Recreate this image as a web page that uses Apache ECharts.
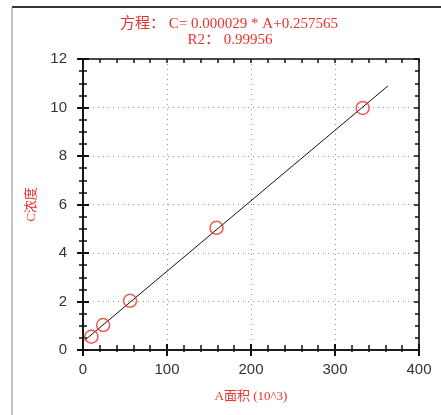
<!DOCTYPE html>
<html><head><meta charset="utf-8">
<script src="https://cdn.jsdelivr.net/npm/echarts@6/dist/echarts.min.js"></script>
<style>html,body{margin:0;padding:0;background:#fff}#c{width:441px;height:415px}</style>
</head><body><div id="c"></div>
<script>
const pointsX = [10, 24, 56, 159, 333];
const pointsY = [0.55, 1.03, 2.03, 5.04, 9.98];
const fitX = [2, 363];
const fitY = [0.40, 10.89];
const xTicks = [0, 100, 200, 300, 400];
const yTicks = [0, 2, 4, 6, 8, 10, 12];
const titleLine1 = '方程： C= 0.000029 * A+0.257565';
const titleLine2 = 'R2： 0.99956';

const red = '#e8322c';
const chart = echarts.init(document.getElementById('c'));
const gridPos = {left: 83, right: 22, top: 59, bottom: 65};
const tickCol = '#111';
function xAx(grid, extra) {
  return Object.assign({type: 'value', min: 0, max: 400, interval: 100, gridIndex: grid,
    axisLine: {show: false}, axisLabel: {show: false}, splitLine: {show: false}}, extra);
}
function yAx(grid, extra) {
  return Object.assign({type: 'value', min: 0, max: 12, interval: 2, gridIndex: grid,
    axisLine: {show: false}, axisLabel: {show: false}, splitLine: {show: false}}, extra);
}
const serifFont = '"Liberation Serif", "Noto Sans CJK SC"';
const axLine = {show: true, onZero: false, lineStyle: {color: tickCol, width: 1.6}};
chart.setOption({
  animation: false,
  grid: [gridPos, gridPos, gridPos],
  graphic: [
    {type: 'line', shape: {x1: 12, y1: 7, x2: 441, y2: 7}, style: {stroke: '#333', lineWidth: 2}},
    {type: 'line', shape: {x1: 12, y1: 7, x2: 12, y2: 415}, style: {stroke: '#888', lineWidth: 1}},
    {type: 'text', x: 229, y: 17, style: {text: titleLine1, fill: red, font: '15px ' + serifFont, align: 'center'}},
    {type: 'text', x: 230, y: 33, style: {text: titleLine2, fill: red, font: '15px ' + serifFont, align: 'center'}}
  ],
  xAxis: [
    xAx(0, {
      position: 'bottom',
      name: 'A面积 (10^3)', nameLocation: 'middle', nameGap: 40,
      nameTextStyle: {color: red, fontSize: 13, fontFamily: serifFont},
      axisLine: axLine,
      axisTick: {show: true, inside: false, length: 6, lineStyle: {color: tickCol, width: 2}},
      minorTick: {show: true, splitNumber: 5, length: 2, lineStyle: {color: tickCol, width: 1.5}},
      axisLabel: {show: true, margin: 12, color: '#333', fontSize: 15, fontFamily: '"Liberation Sans", Arial',
        formatter: v => xTicks.includes(v) ? String(v) : ''},
      splitLine: {show: true, lineStyle: {color: '#999', type: [1, 4], width: 1}}
    }),
    xAx(1, {
      position: 'bottom',
      axisLine: axLine,
      axisTick: {show: true, inside: true, length: 6, lineStyle: {color: tickCol, width: 2}},
      minorTick: {show: true, splitNumber: 5, length: 5, lineStyle: {color: tickCol, width: 1.5}}
    }),
    xAx(2, {
      position: 'top',
      axisLine: axLine,
      axisTick: {show: true, inside: true, length: 4, lineStyle: {color: tickCol, width: 1.5}},
      minorTick: {show: true, splitNumber: 5, length: 4, lineStyle: {color: tickCol, width: 1.5}}
    })
  ],
  yAxis: [
    yAx(0, {
      position: 'left',
      name: 'C浓度', nameLocation: 'middle', nameGap: 45, nameRotate: 90,
      nameTextStyle: {color: red, fontSize: 13, fontFamily: serifFont},
      axisLine: axLine,
      axisTick: {show: true, inside: false, length: 6, lineStyle: {color: tickCol, width: 2}},
      minorTick: {show: true, splitNumber: 4, length: 4, lineStyle: {color: tickCol, width: 1.5}},
      axisLabel: {show: true, margin: 16, color: '#333', fontSize: 15, fontFamily: '"Liberation Sans", Arial',
        formatter: v => yTicks.includes(v) ? String(v) : ''},
      splitLine: {show: true, lineStyle: {color: '#999', type: [1, 4], width: 1}}
    }),
    yAx(1, {
      position: 'left',
      axisLine: axLine,
      axisTick: {show: true, inside: true, length: 6, lineStyle: {color: tickCol, width: 2}},
      minorTick: {show: true, splitNumber: 4, length: 4, lineStyle: {color: tickCol, width: 1.5}}
    }),
    yAx(2, {
      position: 'right',
      axisLine: axLine,
      axisTick: {show: true, inside: true, length: 5, lineStyle: {color: tickCol, width: 1.5}},
      minorTick: {show: true, splitNumber: 4, length: 4, lineStyle: {color: tickCol, width: 1.5}}
    })
  ],
  series: [
    {type: 'line', xAxisIndex: 0, yAxisIndex: 0, data: fitX.map((x, i) => [x, fitY[i]]),
     symbol: 'none', lineStyle: {color: '#111', width: 1}, z: 2},
    {type: 'scatter', xAxisIndex: 0, yAxisIndex: 0, data: pointsX.map((x, i) => [x, pointsY[i]]),
     symbol: 'circle', symbolSize: 13,
     itemStyle: {color: 'rgba(255,255,255,0)', borderColor: red, borderWidth: 1.5}, z: 3},
    {type: 'line', xAxisIndex: 1, yAxisIndex: 1, data: [], silent: true},
    {type: 'line', xAxisIndex: 2, yAxisIndex: 2, data: [], silent: true}
  ]
});
</script></body></html>
